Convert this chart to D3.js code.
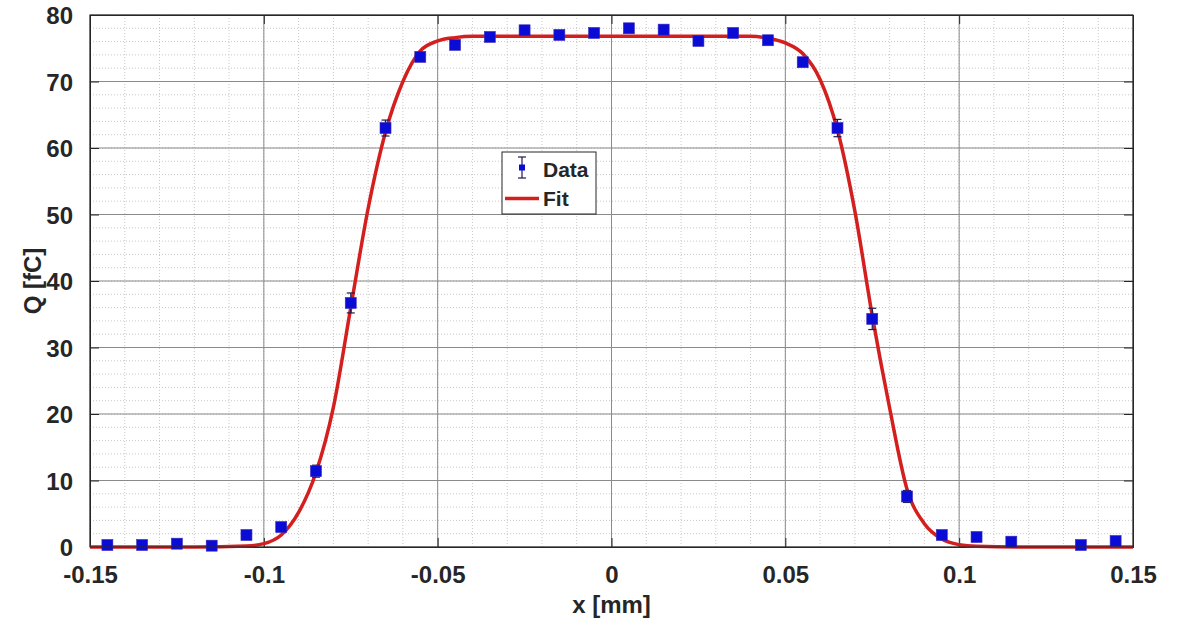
<!DOCTYPE html>
<html>
<head>
<meta charset="utf-8">
<script src="https://cdn.jsdelivr.net/npm/d3@7"></script>
<style>
  body { margin: 0; background: #fff; }
  text { font-family: "Liberation Sans", Arial, sans-serif; font-weight: bold; fill: #262626; }
</style>
</head>
<body>
<svg id="chart" width="1187" height="624"></svg>
<script>
// measured points (x in mm, Q in fC)
const xData = [-0.145, -0.135, -0.125, -0.115, -0.105, -0.095, -0.085, -0.075, -0.065, -0.055,
  -0.045, -0.035, -0.025, -0.015, -0.005, 0.005, 0.015, 0.025, 0.035, 0.045,
  0.055, 0.065, 0.075, 0.085, 0.095, 0.105, 0.115, 0.135, 0.145];
const qData = [0.3, 0.3, 0.5, 0.2, 1.8, 3.0, 11.4, 36.7, 63.0, 73.7,
  75.5, 76.7, 77.7, 77.0, 77.3, 78.0, 77.8, 76.1, 77.3, 76.2,
  72.9, 63.0, 34.3, 7.6, 1.8, 1.5, 0.8, 0.3, 0.9];
const qErr = [0.3, 0.3, 0.3, 0.3, 0.4, 0.5, 0.9, 1.5, 1.2, 0.6,
  0.5, 0.5, 0.5, 0.5, 0.5, 0.5, 0.5, 0.5, 0.5, 0.5,
  0.6, 1.3, 1.6, 0.9, 0.4, 0.3, 0.3, 0.3, 0.3];

// fit curve
const fitX = [-0.15, -0.12, -0.105, -0.1, -0.095, -0.09, -0.085, -0.08, -0.075, -0.07,
  -0.065, -0.06, -0.055, -0.05, -0.045, -0.04, 0, 0.04, 0.045, 0.05,
  0.055, 0.06, 0.065, 0.07, 0.075, 0.08, 0.085, 0.09, 0.095, 0.1,
  0.105, 0.12, 0.15];
const fitQ = [0, 0, 0.15, 0.5, 1.8, 5.2, 11.2, 21.0, 36.0, 50.9,
  62.4, 70.0, 74.6, 76.1, 76.6, 76.8, 76.8, 76.8, 76.5, 75.8,
  74.2, 70.3, 62.7, 50.5, 34.8, 20.9, 8.7, 3.5, 1.2, 0.35,
  0.1, 0, 0];

const xTicks = [-0.15, -0.1, -0.05, 0, 0.05, 0.1, 0.15];
const xTickLabels = ["-0.15", "-0.1", "-0.05", "0", "0.05", "0.1", "0.15"];
const yTicks = [0, 10, 20, 30, 40, 50, 60, 70, 80];
const xMinor = d3.range(-15, 16).map(d => d / 100);
const yMinor = d3.range(0, 81, 2);

const margin = { top: 15, right: 54, bottom: 77, left: 90 };
const width = 1187, height = 624;
const innerWidth = width - margin.left - margin.right;
const innerHeight = height - margin.top - margin.bottom;

const svg = d3.select("#chart");
const g = svg.append("g").attr("transform", `translate(${margin.left},${margin.top})`);

const xScale = d3.scaleLinear().domain([-0.15, 0.15]).range([0, innerWidth]);
const yScale = d3.scaleLinear().domain([0, 80]).range([innerHeight, 0]);

// minor grid (dotted)
g.append("g").selectAll("line").data(xMinor).join("line")
  .attr("x1", d => xScale(d)).attr("x2", d => xScale(d))
  .attr("y1", 0).attr("y2", innerHeight)
  .attr("stroke", "#c8c8c8").attr("stroke-dasharray", "1,2");
g.append("g").selectAll("line").data(yMinor).join("line")
  .attr("y1", d => yScale(d)).attr("y2", d => yScale(d))
  .attr("x1", 0).attr("x2", innerWidth)
  .attr("stroke", "#c8c8c8").attr("stroke-dasharray", "1,2");

// major grid
g.append("g").selectAll("line").data(xTicks).join("line")
  .attr("x1", d => xScale(d)).attr("x2", d => xScale(d))
  .attr("y1", 0).attr("y2", innerHeight)
  .attr("stroke", "#8a8a8a").attr("stroke-width", 1);
g.append("g").selectAll("line").data(yTicks).join("line")
  .attr("y1", d => yScale(d)).attr("y2", d => yScale(d))
  .attr("x1", 0).attr("x2", innerWidth)
  .attr("stroke", "#8a8a8a").attr("stroke-width", 1);

// axes (ticks pointing inward)
const xAxis = g.append("g").attr("transform", `translate(0,${innerHeight})`)
  .call(d3.axisBottom(xScale).tickValues(xTicks).tickSize(-9).tickPadding(19)
    .tickFormat((d, i) => xTickLabels[i]));
const xAxisTop = g.append("g")
  .call(d3.axisTop(xScale).tickValues(xTicks).tickSize(-9).tickFormat(""));
const yAxis = g.append("g")
  .call(d3.axisLeft(yScale).tickValues(yTicks).tickSize(-9).tickPadding(17));
const yAxisRight = g.append("g").attr("transform", `translate(${innerWidth},0)`)
  .call(d3.axisRight(yScale).tickValues(yTicks).tickSize(-9).tickFormat(""));

[xAxis, xAxisTop, yAxis, yAxisRight].forEach(a => {
  a.select(".domain").attr("stroke", "#262626");
  a.selectAll(".tick line").attr("stroke", "#262626");
  a.selectAll("text").style("font-size", "24px")
    .style("font-family", "'Liberation Sans', Arial, sans-serif")
    .style("font-weight", "bold").attr("fill", "#262626");
});
yAxis.selectAll("text").attr("dy", "0.36em");

// fit line
const line = d3.line()
  .x((d, i) => xScale(fitX[i]))
  .y(d => yScale(d))
  .curve(d3.curveMonotoneX);

g.append("path")
  .datum(fitQ)
  .attr("fill", "none")
  .attr("stroke", "#d41f1f")
  .attr("stroke-width", 3.5)
  .attr("stroke-linejoin", "round")
  .attr("d", line);

// error bars
const eb = g.append("g").attr("stroke", "#1c1c50").attr("stroke-width", 1.2);
eb.selectAll(".ev").data(qData).join("line")
  .attr("x1", (d, i) => xScale(xData[i])).attr("x2", (d, i) => xScale(xData[i]))
  .attr("y1", (d, i) => yScale(d - qErr[i])).attr("y2", (d, i) => yScale(d + qErr[i]));
["top", "bot"].forEach(k => {
  eb.append("g").selectAll("line").data(qData).join("line")
    .attr("x1", (d, i) => xScale(xData[i]) - 4).attr("x2", (d, i) => xScale(xData[i]) + 4)
    .attr("y1", (d, i) => yScale(k === "top" ? d + qErr[i] : d - qErr[i]))
    .attr("y2", (d, i) => yScale(k === "top" ? d + qErr[i] : d - qErr[i]));
});

// data markers
g.append("g").selectAll("rect").data(qData).join("rect")
  .attr("x", (d, i) => xScale(xData[i]) - 5.5)
  .attr("y", d => yScale(d) - 5.5)
  .attr("width", 11).attr("height", 11)
  .attr("fill", "#0b0bd6")
  .attr("stroke", "#3a2ab8").attr("stroke-width", 0.6);

// box
g.append("rect").attr("width", innerWidth).attr("height", innerHeight)
  .attr("fill", "none").attr("stroke", "#262626");

// axis labels
svg.append("text")
  .attr("x", margin.left + innerWidth / 2).attr("y", 613)
  .attr("text-anchor", "middle").style("font-size", "24px")
  .text("x [mm]");
svg.append("text")
  .attr("transform", `translate(41,${margin.top + innerHeight / 2}) rotate(-90)`)
  .attr("text-anchor", "middle").style("font-size", "24px")
  .text("Q [fC]");

// legend
const leg = svg.append("g").attr("transform", "translate(502,152)");
leg.append("rect").attr("width", 94).attr("height", 62)
  .attr("fill", "#fff").attr("stroke", "#262626").attr("stroke-width", 1);
leg.append("line").attr("x1", 20).attr("x2", 20).attr("y1", 5).attr("y2", 26)
  .attr("stroke", "#1c1c50").attr("stroke-width", 1.2);
leg.append("line").attr("x1", 16).attr("x2", 24).attr("y1", 5).attr("y2", 5)
  .attr("stroke", "#1c1c50").attr("stroke-width", 1.2);
leg.append("line").attr("x1", 16).attr("x2", 24).attr("y1", 26).attr("y2", 26)
  .attr("stroke", "#1c1c50").attr("stroke-width", 1.2);
leg.append("rect").attr("x", 17).attr("y", 12.5).attr("width", 6).attr("height", 6)
  .attr("fill", "#0b0bd6");
leg.append("text").attr("x", 41).attr("y", 25).style("font-size", "21px").text("Data");
leg.append("line").attr("x1", 3).attr("x2", 37).attr("y1", 46.5).attr("y2", 46.5)
  .attr("stroke", "#d41f1f").attr("stroke-width", 3.5);
leg.append("text").attr("x", 41).attr("y", 54).style("font-size", "21px").text("Fit");
</script>
</body>
</html>
